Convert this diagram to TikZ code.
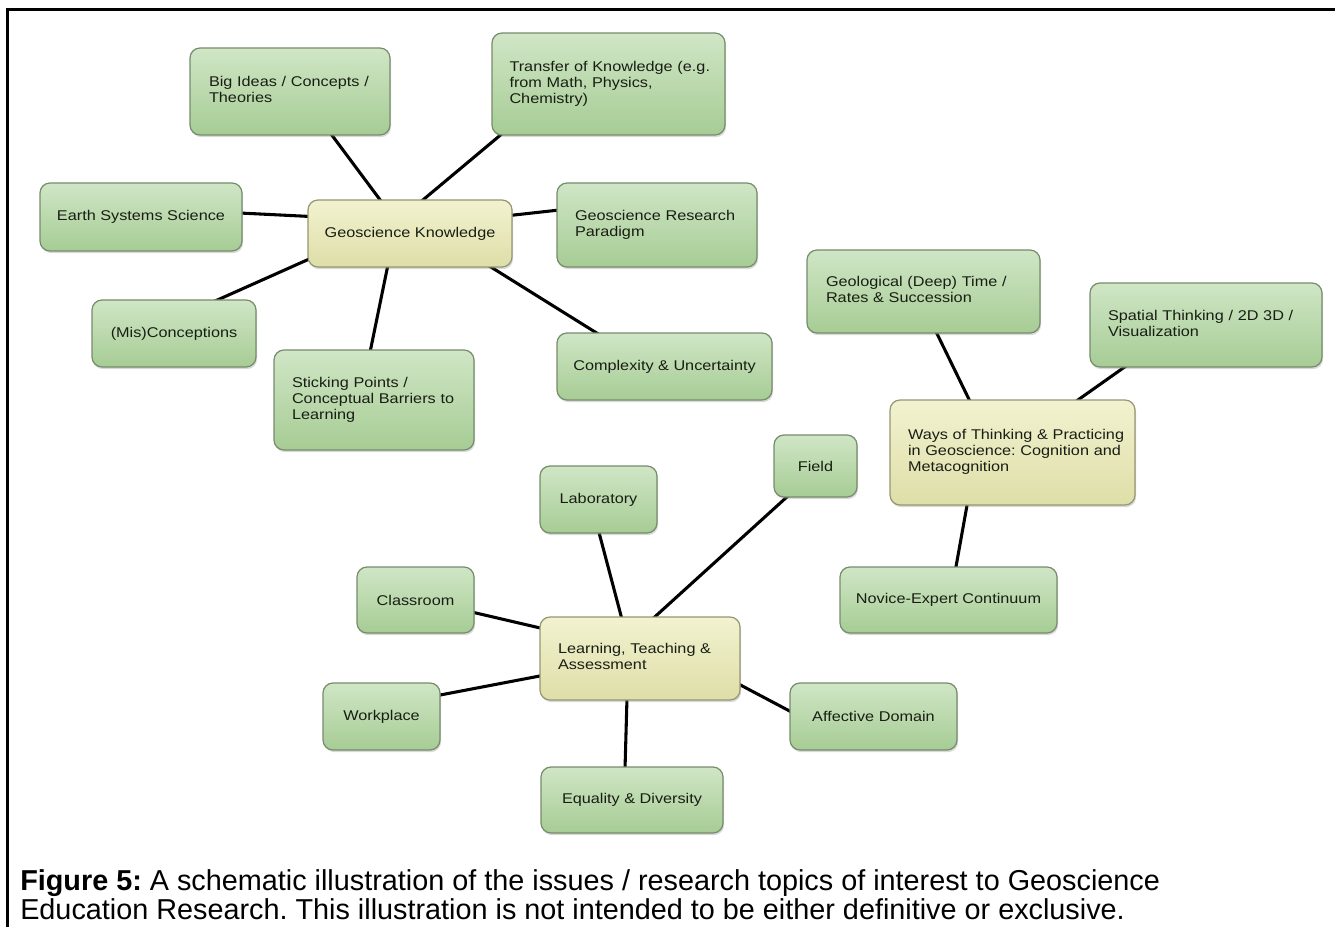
\documentclass[tikz,border=0pt]{standalone}
\usepackage{fontspec}
\setmainfont{Liberation Sans}
\newfontfamily\boxfont[FakeStretch=1.15]{Liberation Sans}
\usetikzlibrary{calc,shadows,backgrounds}
\frenchspacing

\definecolor{gtop}{RGB}{208,230,198}
\definecolor{gbot}{RGB}{166,204,148}
\definecolor{gborder}{RGB}{118,140,108}
\definecolor{ytop}{RGB}{242,242,208}
\definecolor{ybot}{RGB}{222,222,168}
\definecolor{yborder}{RGB}{150,150,115}
\definecolor{textcol}{RGB}{25,30,20}

% left-aligned block of lines, indented from the box's left edge
\newcommand\lpad[2]{\hspace*{#1}\begin{tabular}{@{}l@{}}#2\end{tabular}}

\tikzset{
  box/.style={rounded corners=7.5pt, line width=0.9pt,
    drop shadow={shadow xshift=0.8pt, shadow yshift=-1.6pt, opacity=0.3},
    font=\boxfont\fontsize{10.6}{12}\selectfont, text=textcol, inner sep=3pt},
  gbox/.style={box, draw=gborder, top color=gtop, bottom color=gbot},
  ybox/.style={box, draw=yborder, top color=ytop, bottom color=ybot},
  ml/.style={text width=#1},
  link/.style={line width=2.3pt, draw=black},
  capfont/.style={font=\fontsize{21.6}{21.75}\selectfont, text=black, inner sep=0pt}
}

\begin{document}
\begin{tikzpicture}[x=0.75pt, y=-0.75pt]
\useasboundingbox (0,0) rectangle (1335,927);

% frame
\draw[line width=2pt] (7.5,927) -- (7.5,9.5) -- (1335,9.5);

% --- Geoscience Knowledge cluster
\node[ybox, minimum width=153pt, minimum height=50.25pt] (gk) at (410,233.5) {Geoscience Knowledge};
\node[gbox, minimum width=150pt, minimum height=65.25pt, ml=141pt] (big) at (290,91.5)
  {\lpad{9.75pt}{Big Ideas / Concepts /\\Theories}};
\node[gbox, minimum width=174.75pt, minimum height=76.5pt, ml=165pt] (trans) at (608.5,84)
  {\lpad{8.25pt}{Transfer of Knowledge (e.g.\\from Math, Physics,\\Chemistry)}};
\node[gbox, minimum width=151.5pt, minimum height=51pt] (earth) at (141,217) {Earth Systems Science};
\node[gbox, minimum width=150pt, minimum height=63pt, ml=141pt] (grp) at (657,225)
  {\lpad{9pt}{Geoscience Research\\Paradigm}};
\node[gbox, minimum width=123pt, minimum height=50.25pt] (mis) at (174,333.5) {(Mis)Conceptions};
\node[gbox, minimum width=150pt, minimum height=75pt, ml=141pt] (stick) at (374,400)
  {\lpad{9pt}{Sticking Points /\\Conceptual Barriers to\\Learning}};
\node[gbox, minimum width=161.25pt, minimum height=50.25pt] (compl) at (664.5,366.5) {Complexity \& Uncertainty};

% --- Ways of Thinking cluster
\node[ybox, minimum width=183.75pt, minimum height=78.75pt, ml=174.75pt] (ways) at (1012.5,452.5)
  {\lpad{9pt}{Ways of Thinking \& Practicing\\in Geoscience: Cognition and\\Metacognition}};
\node[gbox, minimum width=174.75pt, minimum height=62.25pt, ml=165.75pt] (deep) at (923.5,291.5)
  {\lpad{9.75pt}{Geological (Deep) Time /\\Rates \& Succession}};
\node[gbox, minimum width=174pt, minimum height=63pt, ml=165pt] (spat) at (1206,325)
  {\lpad{9pt}{Spatial Thinking / 2D 3D /\\Visualization}};
\node[gbox, minimum width=162.75pt, minimum height=49.5pt] (novice) at (948.5,600) {Novice-Expert Continuum};

% --- Learning, Teaching & Assessment cluster
\node[ybox, minimum width=150pt, minimum height=62.25pt, ml=141pt] (lta) at (640,658.5)
  {\lpad{9pt}{Learning, Teaching \&\\Assessment}};
\node[gbox, minimum width=62.25pt, minimum height=46.5pt] (field) at (815.5,466) {Field};
\node[gbox, minimum width=87.75pt, minimum height=50.25pt] (lab) at (598.5,499.5) {Laboratory};
\node[gbox, minimum width=87.75pt, minimum height=49.5pt] (class) at (415.5,600) {Classroom};
\node[gbox, minimum width=87.75pt, minimum height=50.25pt] (work) at (381.5,716.5) {Workplace};
\node[gbox, minimum width=125.25pt, minimum height=50.25pt] (aff) at (873.5,716.5) {Affective Domain};
\node[gbox, minimum width=136.5pt, minimum height=49.5pt] (equal) at (632,800) {Equality \& Diversity};

% connectors, behind the boxes
\begin{pgfonlayer}{background}
\draw[link] ($(big.south)+(40,-3)$) -- ($(gk.north)+(-28,3)$);
\draw[link] ($(trans.south west)+(12,-3)$) -- ($(gk.north)+(10,3)$);
\draw[link] ($(earth.east)+(-3,-4)$) -- ($(gk.west)+(3,-17)$);
\draw[link] ($(grp.west)+(3,-15)$) -- ($(gk.east)+(-3,-18)$);
\draw[link] ($(mis.north)+(38,3)$) -- ($(gk.west)+(3,25)$);
\draw[link] ($(stick.north)+(-4,3)$) -- ($(gk.south)+(-22,-3)$);
\draw[link] ($(compl.north)+(-64,3)$) -- ($(gk.south)+(77,-3)$);

\draw[link] ($(deep.south)+(12,-3)$) -- ($(ways.north)+(-42,3)$);
\draw[link] ($(spat.south)+(-78,-3)$) -- ($(ways.north)+(62,3)$);
\draw[link] ($(novice.north)+(7,3)$) -- ($(ways.south)+(-45,-3)$);

\draw[link] ($(field.south)+(-26,-3)$) -- ($(lta.north)+(12,3)$);
\draw[link] ($(lab.south)+(0,-3)$) -- ($(lta.north)+(-18,3)$);
\draw[link] ($(class.east)+(-3,12)$) -- ($(lta.west)+(3,-30)$);
\draw[link] ($(work.east)+(-3,-21)$) -- ($(lta.west)+(3,17)$);
\draw[link] ($(aff.west)+(3,-4)$) -- ($(lta.east)+(-3,25)$);
\draw[link] ($(equal.north)+(-7,3)$) -- ($(lta.south)+(-13,-3)$);
\end{pgfonlayer}

% caption
\node[capfont, anchor=base west] (cap1) at (20,890)
  {\textbf{Figure 5:} A schematic illustration of the issues / research topics of interest to Geoscience};
\node[capfont, anchor=base west] (cap2) at (20,919)
  {Education Research. This illustration is not intended to be either definitive or exclusive.};
\end{tikzpicture}
\end{document}
